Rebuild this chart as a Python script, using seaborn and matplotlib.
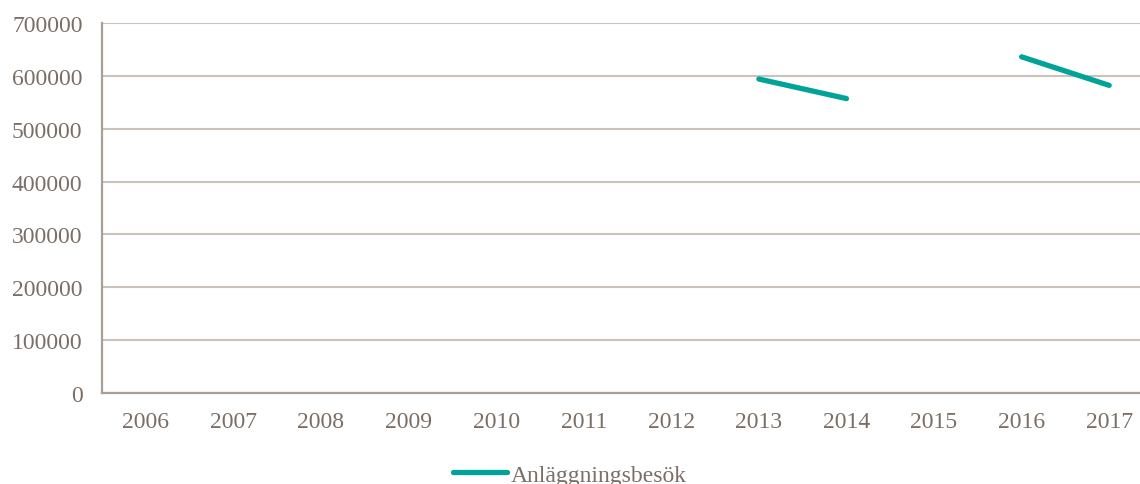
import numpy as np
import pandas as pd
import seaborn as sns
import matplotlib.pyplot as plt

# Values (gaps where there is no data)
years = list(range(2006, 2018))
visits = [np.nan] * 7 + [594000, 557000, np.nan, 636000, 582000]
series_name = 'Anläggningsbesök'
y_ticks = [0, 100000, 200000, 300000, 400000, 500000, 600000, 700000]

df = pd.DataFrame({'year': years, 'visits': visits})
df['seg'] = df['visits'].isna().cumsum()
df = df.dropna()

sns.set_style('white')
plt.rcParams['font.family'] = ['Liberation Serif', 'DejaVu Serif']

text_col = '#7b6f65'
axis_col = '#a99f95'
grid_col = '#cbc2ba'
line_col = '#00a398'

fig = plt.figure(figsize=(11.4, 4.85), dpi=100)
ax = fig.add_axes([102 / 1140, 1 - 394 / 485, 1051 / 1140, 370 / 485])

first = True
for seg, part in df.groupby('seg'):
    sns.lineplot(data=part, x='year', y='visits', ax=ax, color=line_col,
                 linewidth=3.8, solid_capstyle='round',
                 label=series_name if first else None, legend=False)
    first = False

ax.set_xlim(2005.5, 2017.5)
ax.set_ylim(0, 700000)
ax.set_yticks(y_ticks)
ax.set_yticklabels([str(v) for v in y_ticks])
ax.set_xticks(years)
ax.set_xticklabels([str(y) for y in years])
ax.set_xticks(np.arange(2006.5, 2017, 1.0), minor=True)
ax.set_xlabel('')
ax.set_ylabel('')

ax.grid(axis='y', color=grid_col, linewidth=1.5)
ax.set_axisbelow(True)
for s in ['top', 'right']:
    ax.spines[s].set_visible(False)
for s in ['left', 'bottom']:
    ax.spines[s].set_color(axis_col)
    ax.spines[s].set_linewidth(1.6)

ax.tick_params(axis='x', which='major', length=0, pad=13, labelsize=17, labelcolor=text_col)
ax.tick_params(axis='x', which='minor', length=6, width=1.6, color=axis_col, direction='in')
ax.tick_params(axis='y', length=0, pad=14, labelsize=17, labelcolor=text_col)

handles, labels = ax.get_legend_handles_labels()
fig.legend(handles[:1], labels[:1], loc='center', bbox_to_anchor=(0.5, 1 - 476 / 485),
           frameon=False, fontsize=17, labelcolor=text_col,
           handlelength=2.3, handletextpad=0.15)

fig.savefig('out.png', dpi=100)
